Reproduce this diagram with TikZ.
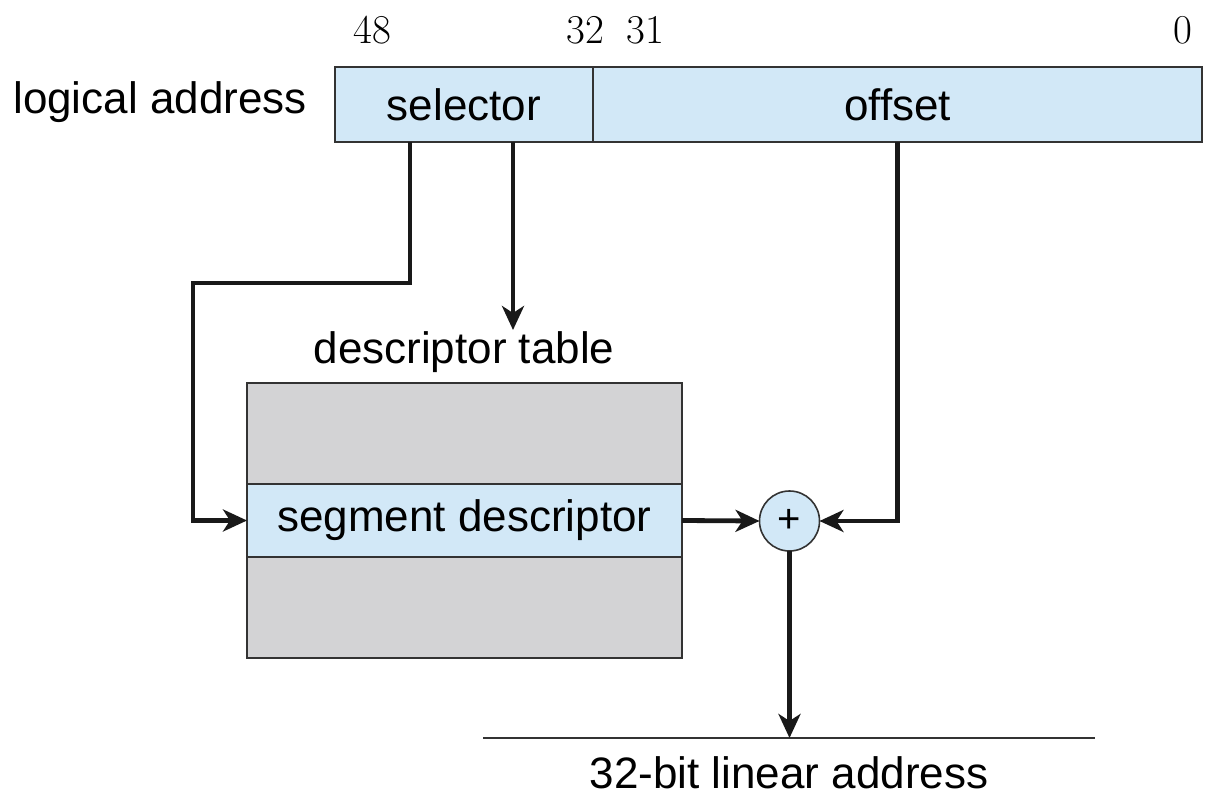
\documentclass[tikz,border=0pt]{standalone}
\usepackage{fontspec}
\newfontfamily\sans{Liberation Sans}
\usetikzlibrary{arrows.meta,calc}
\definecolor{lblue}{HTML}{D2E8F7}
\definecolor{lgray}{HTML}{D3D3D5}
\definecolor{edge}{HTML}{333333}
\begin{document}
\begin{tikzpicture}[x=1pt,y=-1pt,
  box/.style={draw=edge,line width=1.6pt,fill=lblue,inner sep=0pt,outer sep=0pt,minimum height=75pt,font=\sans\fontsize{44}{50}\selectfont},
  graybox/.style={draw=edge,line width=1.6pt,fill=lgray,inner sep=0pt,outer sep=0pt,minimum width=435pt,minimum height=101pt},
  lbl/.style={inner sep=0pt,font=\sans\fontsize{44}{50}\selectfont},
  bitnum/.style={inner sep=0pt,font=\fontsize{41}{45}\selectfont},
  conn/.style={line width=4.8pt,draw=black!90,-{Stealth[length=24pt,width=22pt,inset=7pt]}},
]
\useasboundingbox (0,0) rectangle (1216,800);
% logical address
\node[box,minimum width=258pt] (sel) at (464,104.5) {selector};
\node[box,minimum width=609pt] (off) at (897.5,104.5) {offset};
\node[lbl,anchor=east] (la) at (307,102) {logical address};
\node[bitnum] (b48) at (372,30) {48};
\node[bitnum] (b32) at (585,30) {32};
\node[bitnum] (b31) at (645,30) {31};
\node[bitnum] (b0) at (1183,30) {0};
% descriptor table
\node[lbl] (dtl) at (464,352) {descriptor table};
\node[graybox] (tt) at (464.5,433.5) {};
\node[graybox] (tb) at (464.5,607.5) {};
\node[box,minimum width=435pt,minimum height=73pt] (seg) at (464.5,520.5) {segment descriptor};
% adder
\node[draw=edge,line width=1.6pt,fill=lblue,circle,minimum size=60pt,inner sep=0pt,outer sep=0pt,font=\sans\fontsize{40}{44}\selectfont] (plus) at (789.5,521) {+};
% linear address
\coordinate (l1) at (483,738);
\coordinate (l2) at (1095,738);
\draw[line width=1.6pt,draw=edge] (l1) -- (l2);
\node[lbl] (lin) at (789,773) {32-bit linear address};
% connectors
\coordinate (c1) at (193,283);
\coordinate (c2) at (513,330);
\draw[conn] ([xshift=-54pt]sel.south) |- (c1) |- (seg.west);
\draw[conn] ([xshift=49pt]sel.south) -- (c2);
\draw[conn] (seg.east) -- (plus.west);
\draw[conn] (off.south) |- (plus.east);
\draw[conn] (plus.south) -- (plus.south |- l1);
\end{tikzpicture}
\end{document}
